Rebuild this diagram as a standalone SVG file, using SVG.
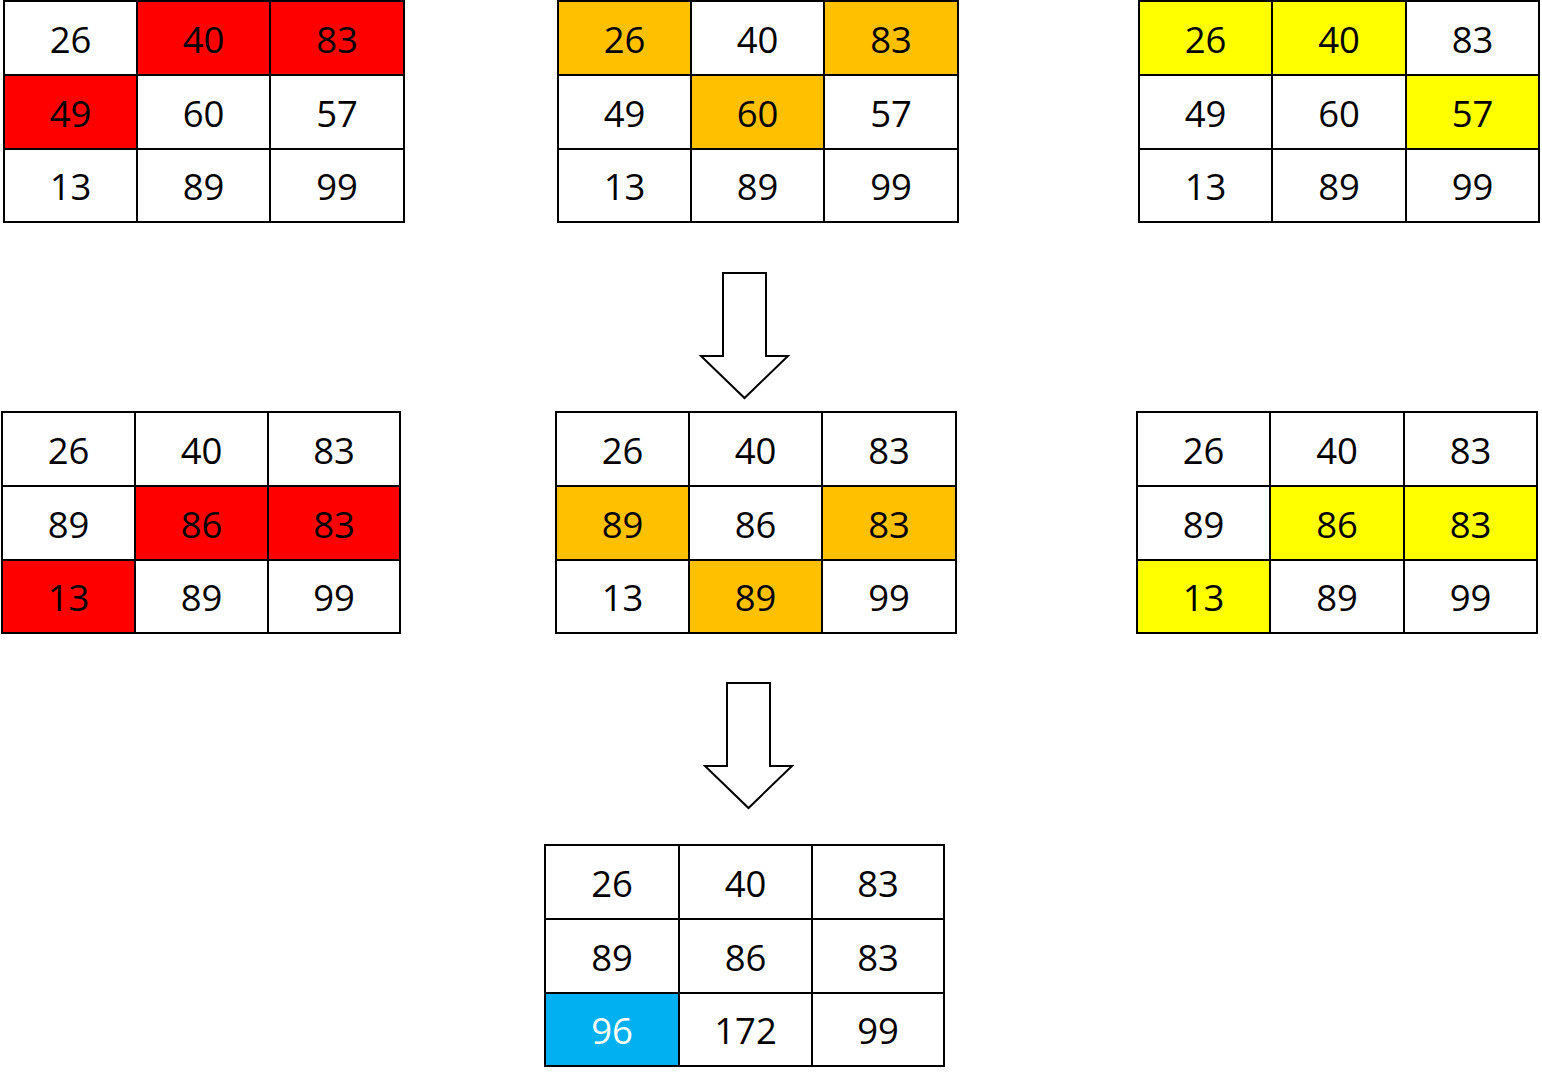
<svg xmlns="http://www.w3.org/2000/svg" width="1542" height="1075" viewBox="0 0 1542 1075">
<style>
.w,.r,.o,.y,.b{stroke:#000;stroke-width:2}
.w{fill:#fff}.r{fill:#ff0000}.o{fill:#ffc000}.y{fill:#ffff00}.b{fill:#00b0f0}
text{font-family:"Open Sans","Noto Sans","DejaVu Sans",sans-serif;font-size:36.5px;text-anchor:middle;fill:#000}
text.wt{fill:#fff}
.arrow{fill:#fff;stroke:#000;stroke-width:2}
</style>
<rect x="0" y="0" width="1542" height="1075" fill="#fff"/>
<g id="gridA">
<rect class="w" x="4" y="1" width="133" height="74"/><rect class="r" x="137" y="1" width="133" height="74"/><rect class="r" x="270" y="1" width="134" height="74"/>
<rect class="r" x="4" y="75" width="133" height="74"/><rect class="w" x="137" y="75" width="133" height="74"/><rect class="w" x="270" y="75" width="134" height="74"/>
<rect class="w" x="4" y="149" width="133" height="73"/><rect class="w" x="137" y="149" width="133" height="73"/><rect class="w" x="270" y="149" width="134" height="73"/>
<text x="70.5" y="53">26</text><text x="203.5" y="53">40</text><text x="337" y="53">83</text>
<text x="70.5" y="127">49</text><text x="203.5" y="127">60</text><text x="337" y="127">57</text>
<text x="70.5" y="200">13</text><text x="203.5" y="200">89</text><text x="337" y="200">99</text>
</g>
<g id="gridB">
<rect class="o" x="558" y="1" width="133" height="74"/><rect class="w" x="691" y="1" width="133" height="74"/><rect class="o" x="824" y="1" width="134" height="74"/>
<rect class="w" x="558" y="75" width="133" height="74"/><rect class="o" x="691" y="75" width="133" height="74"/><rect class="w" x="824" y="75" width="134" height="74"/>
<rect class="w" x="558" y="149" width="133" height="73"/><rect class="w" x="691" y="149" width="133" height="73"/><rect class="w" x="824" y="149" width="134" height="73"/>
<text x="624.5" y="53">26</text><text x="757.5" y="53">40</text><text x="891" y="53">83</text>
<text x="624.5" y="127">49</text><text x="757.5" y="127">60</text><text x="891" y="127">57</text>
<text x="624.5" y="200">13</text><text x="757.5" y="200">89</text><text x="891" y="200">99</text>
</g>
<g id="gridC">
<rect class="y" x="1139" y="1" width="133" height="74"/><rect class="y" x="1272" y="1" width="134" height="74"/><rect class="w" x="1406" y="1" width="133" height="74"/>
<rect class="w" x="1139" y="75" width="133" height="74"/><rect class="w" x="1272" y="75" width="134" height="74"/><rect class="y" x="1406" y="75" width="133" height="74"/>
<rect class="w" x="1139" y="149" width="133" height="73"/><rect class="w" x="1272" y="149" width="134" height="73"/><rect class="w" x="1406" y="149" width="133" height="73"/>
<text x="1205.5" y="53">26</text><text x="1339" y="53">40</text><text x="1472.5" y="53">83</text>
<text x="1205.5" y="127">49</text><text x="1339" y="127">60</text><text x="1472.5" y="127">57</text>
<text x="1205.5" y="200">13</text><text x="1339" y="200">89</text><text x="1472.5" y="200">99</text>
</g>
<g id="gridD">
<rect class="w" x="2" y="412" width="133" height="74"/><rect class="w" x="135" y="412" width="133" height="74"/><rect class="w" x="268" y="412" width="132" height="74"/>
<rect class="w" x="2" y="486" width="133" height="74"/><rect class="r" x="135" y="486" width="133" height="74"/><rect class="r" x="268" y="486" width="132" height="74"/>
<rect class="r" x="2" y="560" width="133" height="73"/><rect class="w" x="135" y="560" width="133" height="73"/><rect class="w" x="268" y="560" width="132" height="73"/>
<text x="68.5" y="464">26</text><text x="201.5" y="464">40</text><text x="334" y="464">83</text>
<text x="68.5" y="538">89</text><text x="201.5" y="538">86</text><text x="334" y="538">83</text>
<text x="68.5" y="611">13</text><text x="201.5" y="611">89</text><text x="334" y="611">99</text>
</g>
<g id="gridE">
<rect class="w" x="556" y="412" width="133" height="74"/><rect class="w" x="689" y="412" width="133" height="74"/><rect class="w" x="822" y="412" width="134" height="74"/>
<rect class="o" x="556" y="486" width="133" height="74"/><rect class="w" x="689" y="486" width="133" height="74"/><rect class="o" x="822" y="486" width="134" height="74"/>
<rect class="w" x="556" y="560" width="133" height="73"/><rect class="o" x="689" y="560" width="133" height="73"/><rect class="w" x="822" y="560" width="134" height="73"/>
<text x="622.5" y="464">26</text><text x="755.5" y="464">40</text><text x="889" y="464">83</text>
<text x="622.5" y="538">89</text><text x="755.5" y="538">86</text><text x="889" y="538">83</text>
<text x="622.5" y="611">13</text><text x="755.5" y="611">89</text><text x="889" y="611">99</text>
</g>
<g id="gridF">
<rect class="w" x="1137" y="412" width="133" height="74"/><rect class="w" x="1270" y="412" width="134" height="74"/><rect class="w" x="1404" y="412" width="133" height="74"/>
<rect class="w" x="1137" y="486" width="133" height="74"/><rect class="y" x="1270" y="486" width="134" height="74"/><rect class="y" x="1404" y="486" width="133" height="74"/>
<rect class="y" x="1137" y="560" width="133" height="73"/><rect class="w" x="1270" y="560" width="134" height="73"/><rect class="w" x="1404" y="560" width="133" height="73"/>
<text x="1203.5" y="464">26</text><text x="1337" y="464">40</text><text x="1470.5" y="464">83</text>
<text x="1203.5" y="538">89</text><text x="1337" y="538">86</text><text x="1470.5" y="538">83</text>
<text x="1203.5" y="611">13</text><text x="1337" y="611">89</text><text x="1470.5" y="611">99</text>
</g>
<g id="gridG">
<rect class="w" x="545" y="845" width="134" height="74"/><rect class="w" x="679" y="845" width="133" height="74"/><rect class="w" x="812" y="845" width="132" height="74"/>
<rect class="w" x="545" y="919" width="134" height="74"/><rect class="w" x="679" y="919" width="133" height="74"/><rect class="w" x="812" y="919" width="132" height="74"/>
<rect class="b" x="545" y="993" width="134" height="73"/><rect class="w" x="679" y="993" width="133" height="73"/><rect class="w" x="812" y="993" width="132" height="73"/>
<text x="612" y="897">26</text><text x="745.5" y="897">40</text><text x="878" y="897">83</text>
<text x="612" y="971">89</text><text x="745.5" y="971">86</text><text x="878" y="971">83</text>
<text class="wt" x="612" y="1044">96</text><text x="745.5" y="1044">172</text><text x="878" y="1044">99</text>
</g>
<g id="connectors">
<polygon class="arrow" points="723,273 766,273 766,356 788,356 744.5,398 701,356 723,356"/>
<polygon class="arrow" points="727,683 770,683 770,766 792,766 748.5,808 705,766 727,766"/>
</g>
</svg>
